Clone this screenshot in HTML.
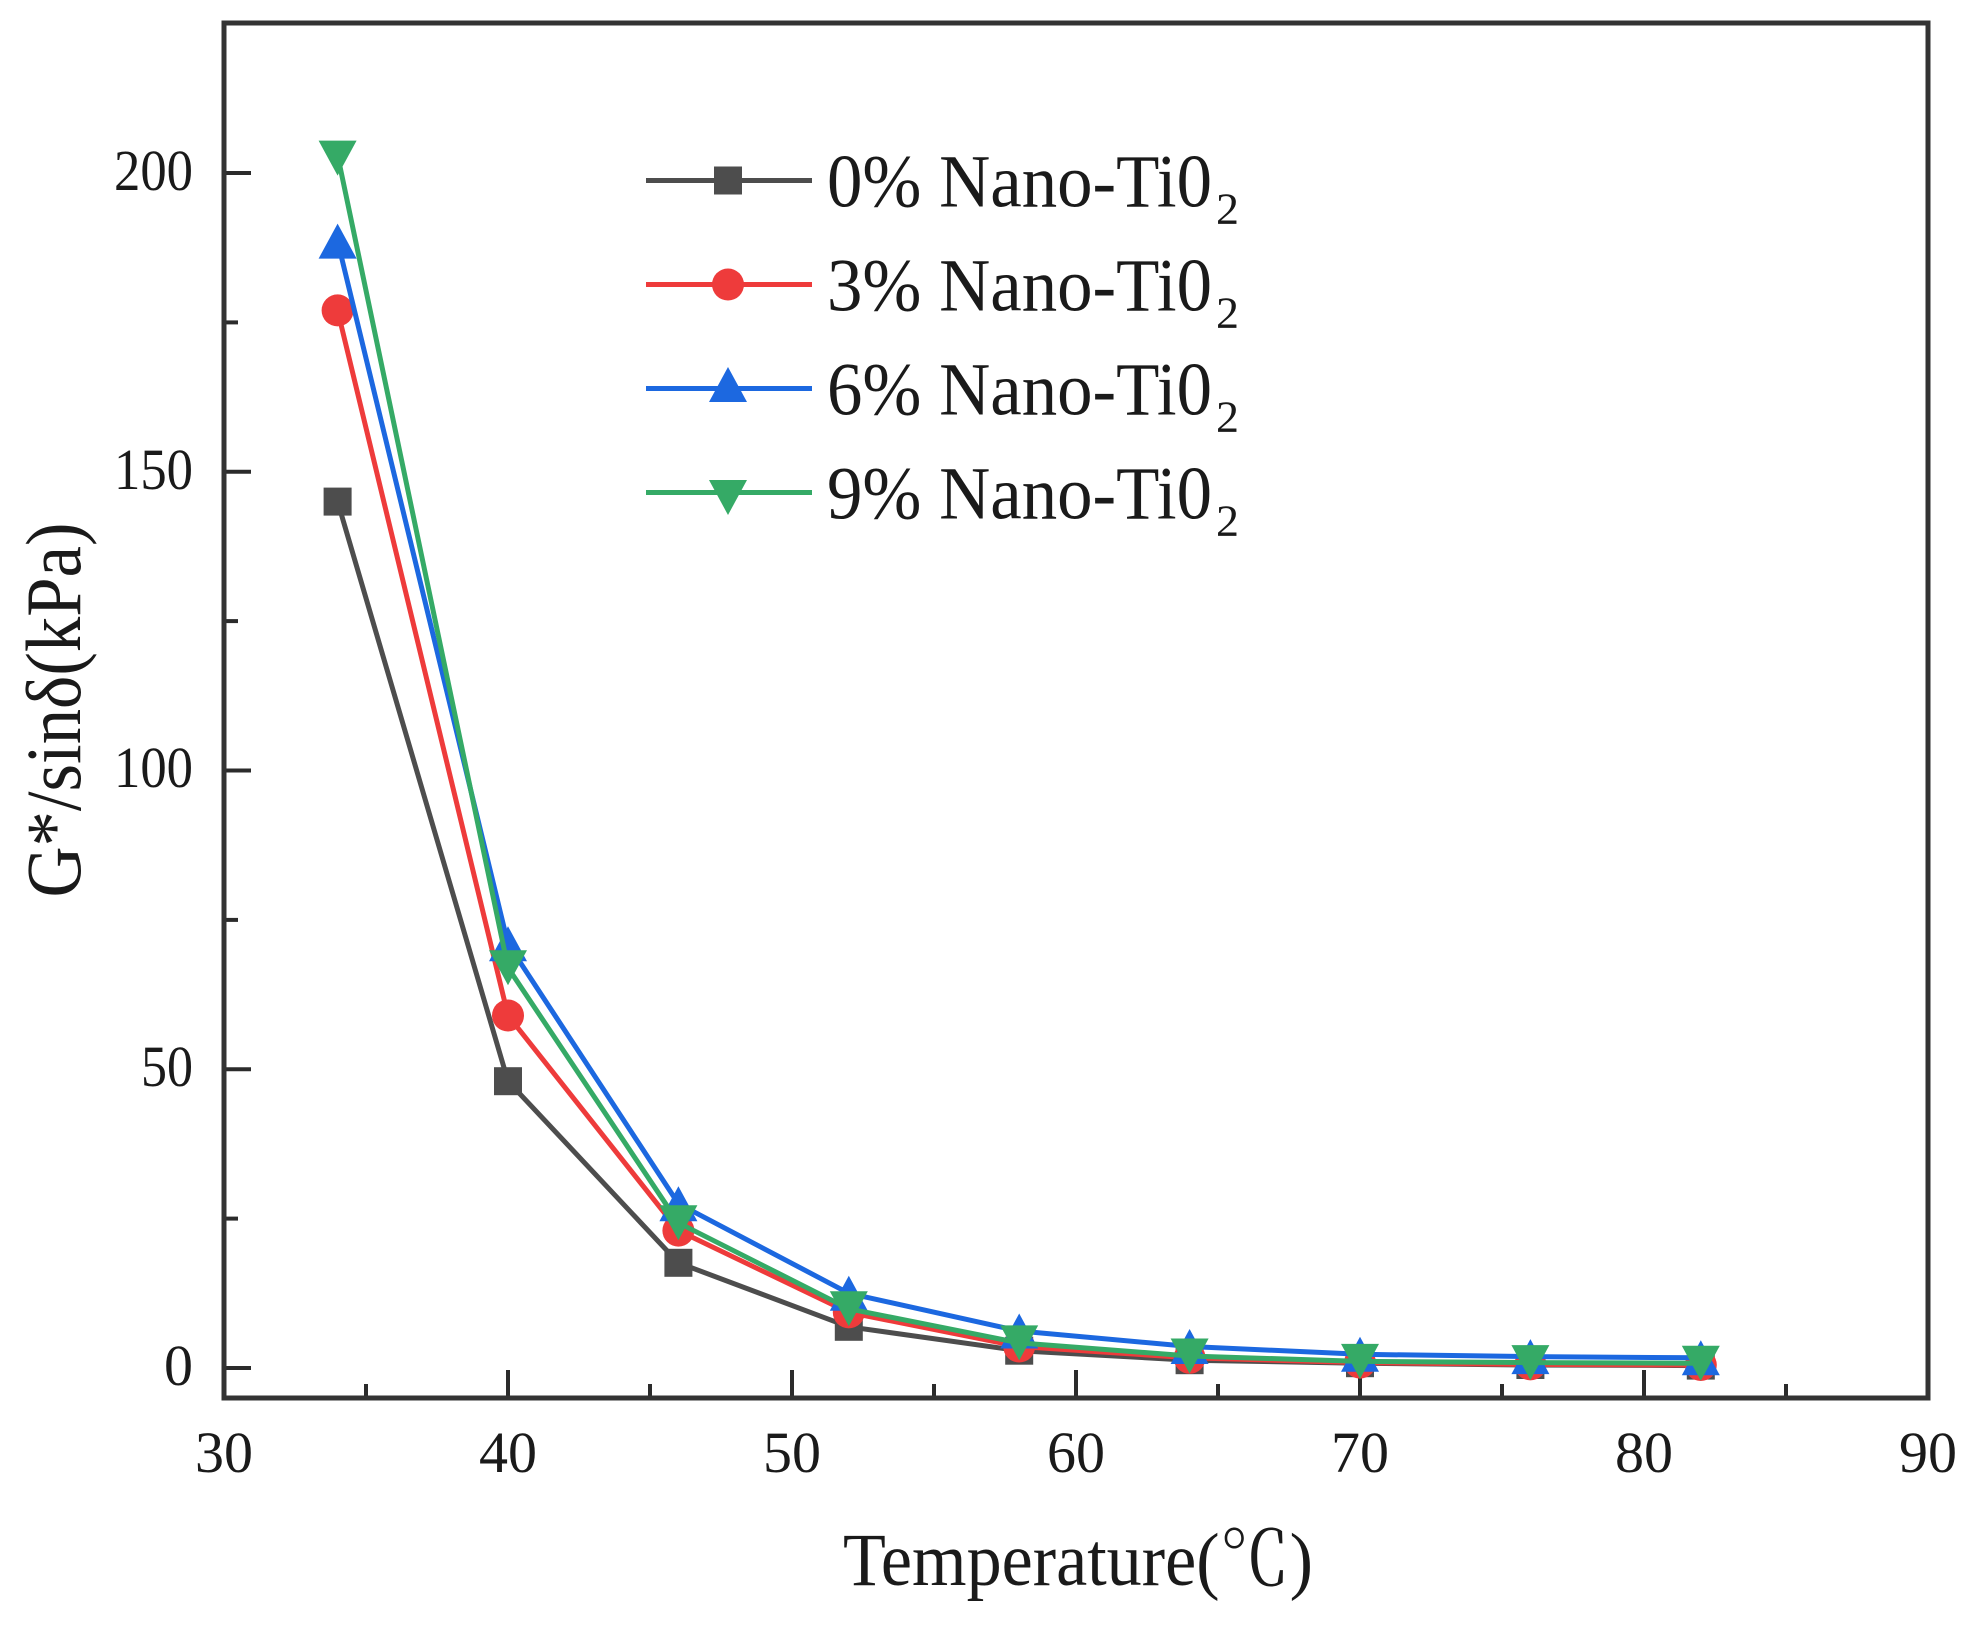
<!DOCTYPE html>
<html>
<head>
<meta charset="utf-8">
<style>
html,body{margin:0;padding:0;background:#fff;}
svg{display:block;}
text{font-family:"Liberation Serif","Noto Serif CJK SC",serif;fill:#1a1a1a;}
</style>
</head>
<body>
<svg width="1981" height="1625" viewBox="0 0 1981 1625" xmlns="http://www.w3.org/2000/svg">
<rect x="0" y="0" width="1981" height="1625" fill="#fff"/>

<!-- Y ticks (inward) -->
<g stroke="#2b2b2b" stroke-width="4">
  <line x1="224" y1="1368" x2="251" y2="1368"/>
  <line x1="224" y1="1069.25" x2="251" y2="1069.25"/>
  <line x1="224" y1="770.5" x2="251" y2="770.5"/>
  <line x1="224" y1="471.75" x2="251" y2="471.75"/>
  <line x1="224" y1="173" x2="251" y2="173"/>
  <line x1="224" y1="1218.6" x2="238" y2="1218.6"/>
  <line x1="224" y1="919.9" x2="238" y2="919.9"/>
  <line x1="224" y1="621.1" x2="238" y2="621.1"/>
  <line x1="224" y1="322.4" x2="238" y2="322.4"/>
</g>
<!-- X ticks (inward) -->
<g stroke="#2b2b2b" stroke-width="4">
  <line x1="508" y1="1398" x2="508" y2="1370"/>
  <line x1="792" y1="1398" x2="792" y2="1370"/>
  <line x1="1076" y1="1398" x2="1076" y2="1370"/>
  <line x1="1360" y1="1398" x2="1360" y2="1370"/>
  <line x1="1644" y1="1398" x2="1644" y2="1370"/>
  <line x1="366" y1="1398" x2="366" y2="1384"/>
  <line x1="650" y1="1398" x2="650" y2="1384"/>
  <line x1="934" y1="1398" x2="934" y2="1384"/>
  <line x1="1218" y1="1398" x2="1218" y2="1384"/>
  <line x1="1502" y1="1398" x2="1502" y2="1384"/>
  <line x1="1786" y1="1398" x2="1786" y2="1384"/>
</g>

<!-- Frame -->
<rect x="224" y="23" width="1704" height="1375" fill="none" stroke="#333" stroke-width="5"/>

<!-- Y tick labels -->
<g font-size="58" text-anchor="end">
  <text x="193" y="1385">0</text>
  <text x="193" y="1086" textLength="52" lengthAdjust="spacingAndGlyphs">50</text>
  <text x="193" y="787" textLength="79" lengthAdjust="spacingAndGlyphs">100</text>
  <text x="193" y="489" textLength="79" lengthAdjust="spacingAndGlyphs">150</text>
  <text x="193" y="190" textLength="79" lengthAdjust="spacingAndGlyphs">200</text>
</g>
<!-- X tick labels -->
<g font-size="58" text-anchor="middle">
  <text x="224" y="1472">30</text>
  <text x="508" y="1472">40</text>
  <text x="792" y="1472">50</text>
  <text x="1076" y="1472">60</text>
  <text x="1360" y="1472">70</text>
  <text x="1644" y="1472">80</text>
  <text x="1928" y="1472">90</text>
</g>

<!-- Axis titles -->
<text x="843" y="1585" font-size="75" textLength="470" lengthAdjust="spacingAndGlyphs">Temperature(℃)</text>
<text transform="translate(80,710) rotate(-90)" text-anchor="middle" font-size="78" textLength="375" lengthAdjust="spacingAndGlyphs">G*/sinδ(kPa)</text>

<!-- Series: black (0%) -->
<g>
  <polyline fill="none" stroke="#4d4d4d" stroke-width="5" stroke-linejoin="round"
    points="337.6,501.6 508,1081.2 678.4,1262.8 848.8,1326.8 1019.2,1350.7 1189.6,1360.2 1360,1363.2 1530.4,1365 1700.8,1365.6"/>
  <g fill="#4d4d4d">
    <rect x="323.6" y="487.6" width="28" height="28"/>
    <rect x="494" y="1067.2" width="28" height="28"/>
    <rect x="664.4" y="1248.8" width="28" height="28"/>
    <rect x="834.8" y="1312.8" width="28" height="28"/>
    <rect x="1005.2" y="1336.7" width="28" height="28"/>
    <rect x="1175.6" y="1346.2" width="28" height="28"/>
    <rect x="1346" y="1349.2" width="28" height="28"/>
    <rect x="1516.4" y="1351" width="28" height="28"/>
    <rect x="1686.8" y="1351.6" width="28" height="28"/>
  </g>
</g>

<!-- Series: red (3%) -->
<g>
  <polyline fill="none" stroke="#ee3b3b" stroke-width="5" stroke-linejoin="round"
    points="337.6,310.4 508,1015.5 678.4,1230.6 848.8,1312.4 1019.2,1346.5 1189.6,1357.8 1360,1362.6 1530.4,1364.4 1700.8,1365"/>
  <g fill="#ee3b3b">
    <circle cx="337.6" cy="310.4" r="16"/>
    <circle cx="508" cy="1015.5" r="16"/>
    <circle cx="678.4" cy="1230.6" r="16"/>
    <circle cx="848.8" cy="1312.4" r="16"/>
    <circle cx="1019.2" cy="1346.5" r="16"/>
    <circle cx="1189.6" cy="1357.8" r="16"/>
    <circle cx="1360" cy="1362.6" r="16"/>
    <circle cx="1530.4" cy="1364.4" r="16"/>
    <circle cx="1700.8" cy="1365" r="16"/>
  </g>
</g>

<!-- Series: blue (6%) -->
<g>
  <polyline fill="none" stroke="#1c68e0" stroke-width="5" stroke-linejoin="round"
    points="337.6,241.1 508,943.8 678.4,1203.7 848.8,1293.3 1019.2,1331 1189.6,1346.5 1360,1354.3 1530.4,1356.6 1700.8,1357.8"/>
  <g fill="#1c68e0">
    <polygon points="337.6,223.6 356.6,258.6 318.6,258.6"/>
    <polygon points="508,926.3 527,961.3 489,961.3"/>
    <polygon points="678.4,1186.2 697.4,1221.2 659.4,1221.2"/>
    <polygon points="848.8,1275.8 867.8,1310.8 829.8,1310.8"/>
    <polygon points="1019.2,1313.5 1038.2,1348.5 1000.2,1348.5"/>
    <polygon points="1189.6,1329 1208.6,1364 1170.6,1364"/>
    <polygon points="1360,1336.8 1379,1371.8 1341,1371.8"/>
    <polygon points="1530.4,1339.1 1549.4,1374.1 1511.4,1374.1"/>
    <polygon points="1700.8,1340.3 1719.8,1375.3 1681.8,1375.3"/>
  </g>
</g>

<!-- Series: green (9%) -->
<g>
  <polyline fill="none" stroke="#35aa66" stroke-width="5" stroke-linejoin="round"
    points="337.6,155.1 508,967.7 678.4,1222.8 848.8,1308.8 1019.2,1342.9 1189.6,1356 1360,1361.4 1530.4,1362.6 1700.8,1363.2"/>
  <g fill="#35aa66">
    <polygon points="318.6,140.6 356.6,140.6 337.6,175.6"/>
    <polygon points="489,950.2 527,950.2 508,985.2"/>
    <polygon points="659.4,1205.3 697.4,1205.3 678.4,1240.3"/>
    <polygon points="829.8,1291.3 867.8,1291.3 848.8,1326.3"/>
    <polygon points="1000.2,1325.4 1038.2,1325.4 1019.2,1360.4"/>
    <polygon points="1170.6,1338.5 1208.6,1338.5 1189.6,1373.5"/>
    <polygon points="1341,1343.9 1379,1343.9 1360,1378.9"/>
    <polygon points="1511.4,1345.1 1549.4,1345.1 1530.4,1380.1"/>
    <polygon points="1681.8,1345.7 1719.8,1345.7 1700.8,1380.7"/>
  </g>
</g>

<!-- Legend -->
<g>
  <line x1="646" y1="180.5" x2="812" y2="180.5" stroke="#4d4d4d" stroke-width="5"/>
  <rect x="714" y="166.5" width="28" height="28" fill="#4d4d4d"/>
  <text x="827" y="206.5" font-size="75" textLength="385" lengthAdjust="spacingAndGlyphs">0% Nano-Ti0</text>
  <text x="1216" y="223.5" font-size="44" textLength="23" lengthAdjust="spacingAndGlyphs">2</text>

  <line x1="646" y1="284.5" x2="812" y2="284.5" stroke="#ee3b3b" stroke-width="5"/>
  <circle cx="728" cy="284.5" r="16" fill="#ee3b3b"/>
  <text x="827" y="310.5" font-size="75" textLength="385" lengthAdjust="spacingAndGlyphs">3% Nano-Ti0</text>
  <text x="1216" y="327.5" font-size="44" textLength="23" lengthAdjust="spacingAndGlyphs">2</text>

  <line x1="646" y1="388.5" x2="812" y2="388.5" stroke="#1c68e0" stroke-width="5"/>
  <polygon points="728,367 747,402 709,402" fill="#1c68e0"/>
  <text x="827" y="414.5" font-size="75" textLength="385" lengthAdjust="spacingAndGlyphs">6% Nano-Ti0</text>
  <text x="1216" y="431.5" font-size="44" textLength="23" lengthAdjust="spacingAndGlyphs">2</text>

  <line x1="646" y1="492.5" x2="812" y2="492.5" stroke="#35aa66" stroke-width="5"/>
  <polygon points="709,480 747,480 728,515" fill="#35aa66"/>
  <text x="827" y="518.5" font-size="75" textLength="385" lengthAdjust="spacingAndGlyphs">9% Nano-Ti0</text>
  <text x="1216" y="535.5" font-size="44" textLength="23" lengthAdjust="spacingAndGlyphs">2</text>
</g>
</svg>
</body>
</html>
